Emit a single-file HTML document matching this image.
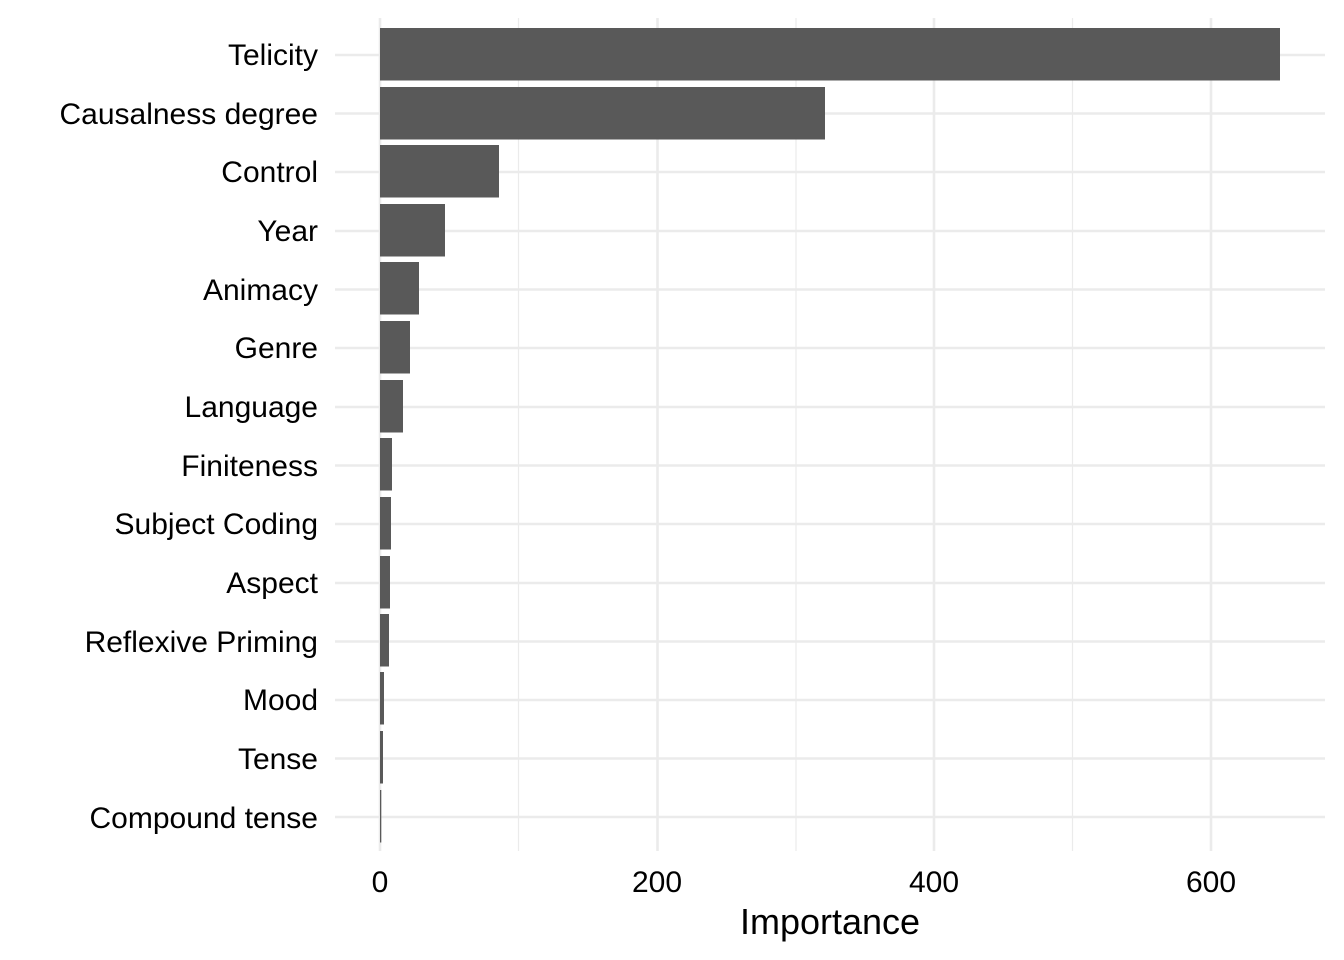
<!DOCTYPE html>
<html><head><style>body{margin:0;background:#fff}svg{display:block}</style></head><body>
<svg width="1344" height="960" xmlns="http://www.w3.org/2000/svg" font-family="Liberation Sans, Arial, sans-serif">
<rect width="1344" height="960" fill="#fff"/>
<g stroke="#ebebeb" stroke-width="1.2">
<line x1="518.5" y1="18" x2="518.5" y2="851"/><line x1="796" y1="18" x2="796" y2="851"/><line x1="1072.5" y1="18" x2="1072.5" y2="851"/>
</g>
<g stroke="#ebebeb" stroke-width="2.6">
<line x1="380" y1="18" x2="380" y2="851"/><line x1="657.5" y1="18" x2="657.5" y2="851"/><line x1="934" y1="18" x2="934" y2="851"/><line x1="1211" y1="18" x2="1211" y2="851"/>
<line x1="335" y1="55" x2="1325" y2="55"/><line x1="335" y1="113.5" x2="1325" y2="113.5"/><line x1="335" y1="172" x2="1325" y2="172"/><line x1="335" y1="231" x2="1325" y2="231"/><line x1="335" y1="289.5" x2="1325" y2="289.5"/><line x1="335" y1="348" x2="1325" y2="348"/><line x1="335" y1="407" x2="1325" y2="407"/><line x1="335" y1="465.5" x2="1325" y2="465.5"/><line x1="335" y1="524" x2="1325" y2="524"/><line x1="335" y1="583" x2="1325" y2="583"/><line x1="335" y1="641.5" x2="1325" y2="641.5"/><line x1="335" y1="700" x2="1325" y2="700"/><line x1="335" y1="758.5" x2="1325" y2="758.5"/><line x1="335" y1="817" x2="1325" y2="817"/>
</g>
<g fill="#595959">
<rect x="380" y="28" width="900" height="52.5"/>
<rect x="380" y="87" width="445" height="52.5"/>
<rect x="380" y="145" width="119" height="52.5"/>
<rect x="380" y="204" width="65" height="52.5"/>
<rect x="380" y="262" width="39" height="52.5"/>
<rect x="380" y="321" width="30" height="52.5"/>
<rect x="380" y="380" width="23" height="52.5"/>
<rect x="380" y="438" width="12" height="52.5"/>
<rect x="380" y="497" width="11" height="52.5"/>
<rect x="380" y="556" width="10" height="52.5"/>
<rect x="380" y="614" width="9" height="52.5"/>
<rect x="380" y="672" width="4" height="52.5"/>
<rect x="380" y="731" width="3" height="52.5"/>
<rect x="380" y="790" width="1.3" height="52.5"/>
</g>
<g font-size="30" fill="#000" text-anchor="end">
<text x="318" y="65">Telicity</text><text x="318" y="124">Causalness degree</text><text x="318" y="182">Control</text><text x="318" y="241">Year</text><text x="318" y="300">Animacy</text><text x="318" y="358">Genre</text><text x="318" y="417">Language</text><text x="318" y="476">Finiteness</text><text x="318" y="534">Subject Coding</text><text x="318" y="593">Aspect</text><text x="318" y="652">Reflexive Priming</text><text x="318" y="710">Mood</text><text x="318" y="769">Tense</text><text x="318" y="828">Compound tense</text>
</g>
<g font-size="30" fill="#000" text-anchor="middle">
<text x="380" y="892">0</text><text x="657" y="892">200</text><text x="934" y="892">400</text><text x="1211" y="892">600</text>
<text x="830" y="934" font-size="36">Importance</text>
</g>
</svg>
</body></html>
